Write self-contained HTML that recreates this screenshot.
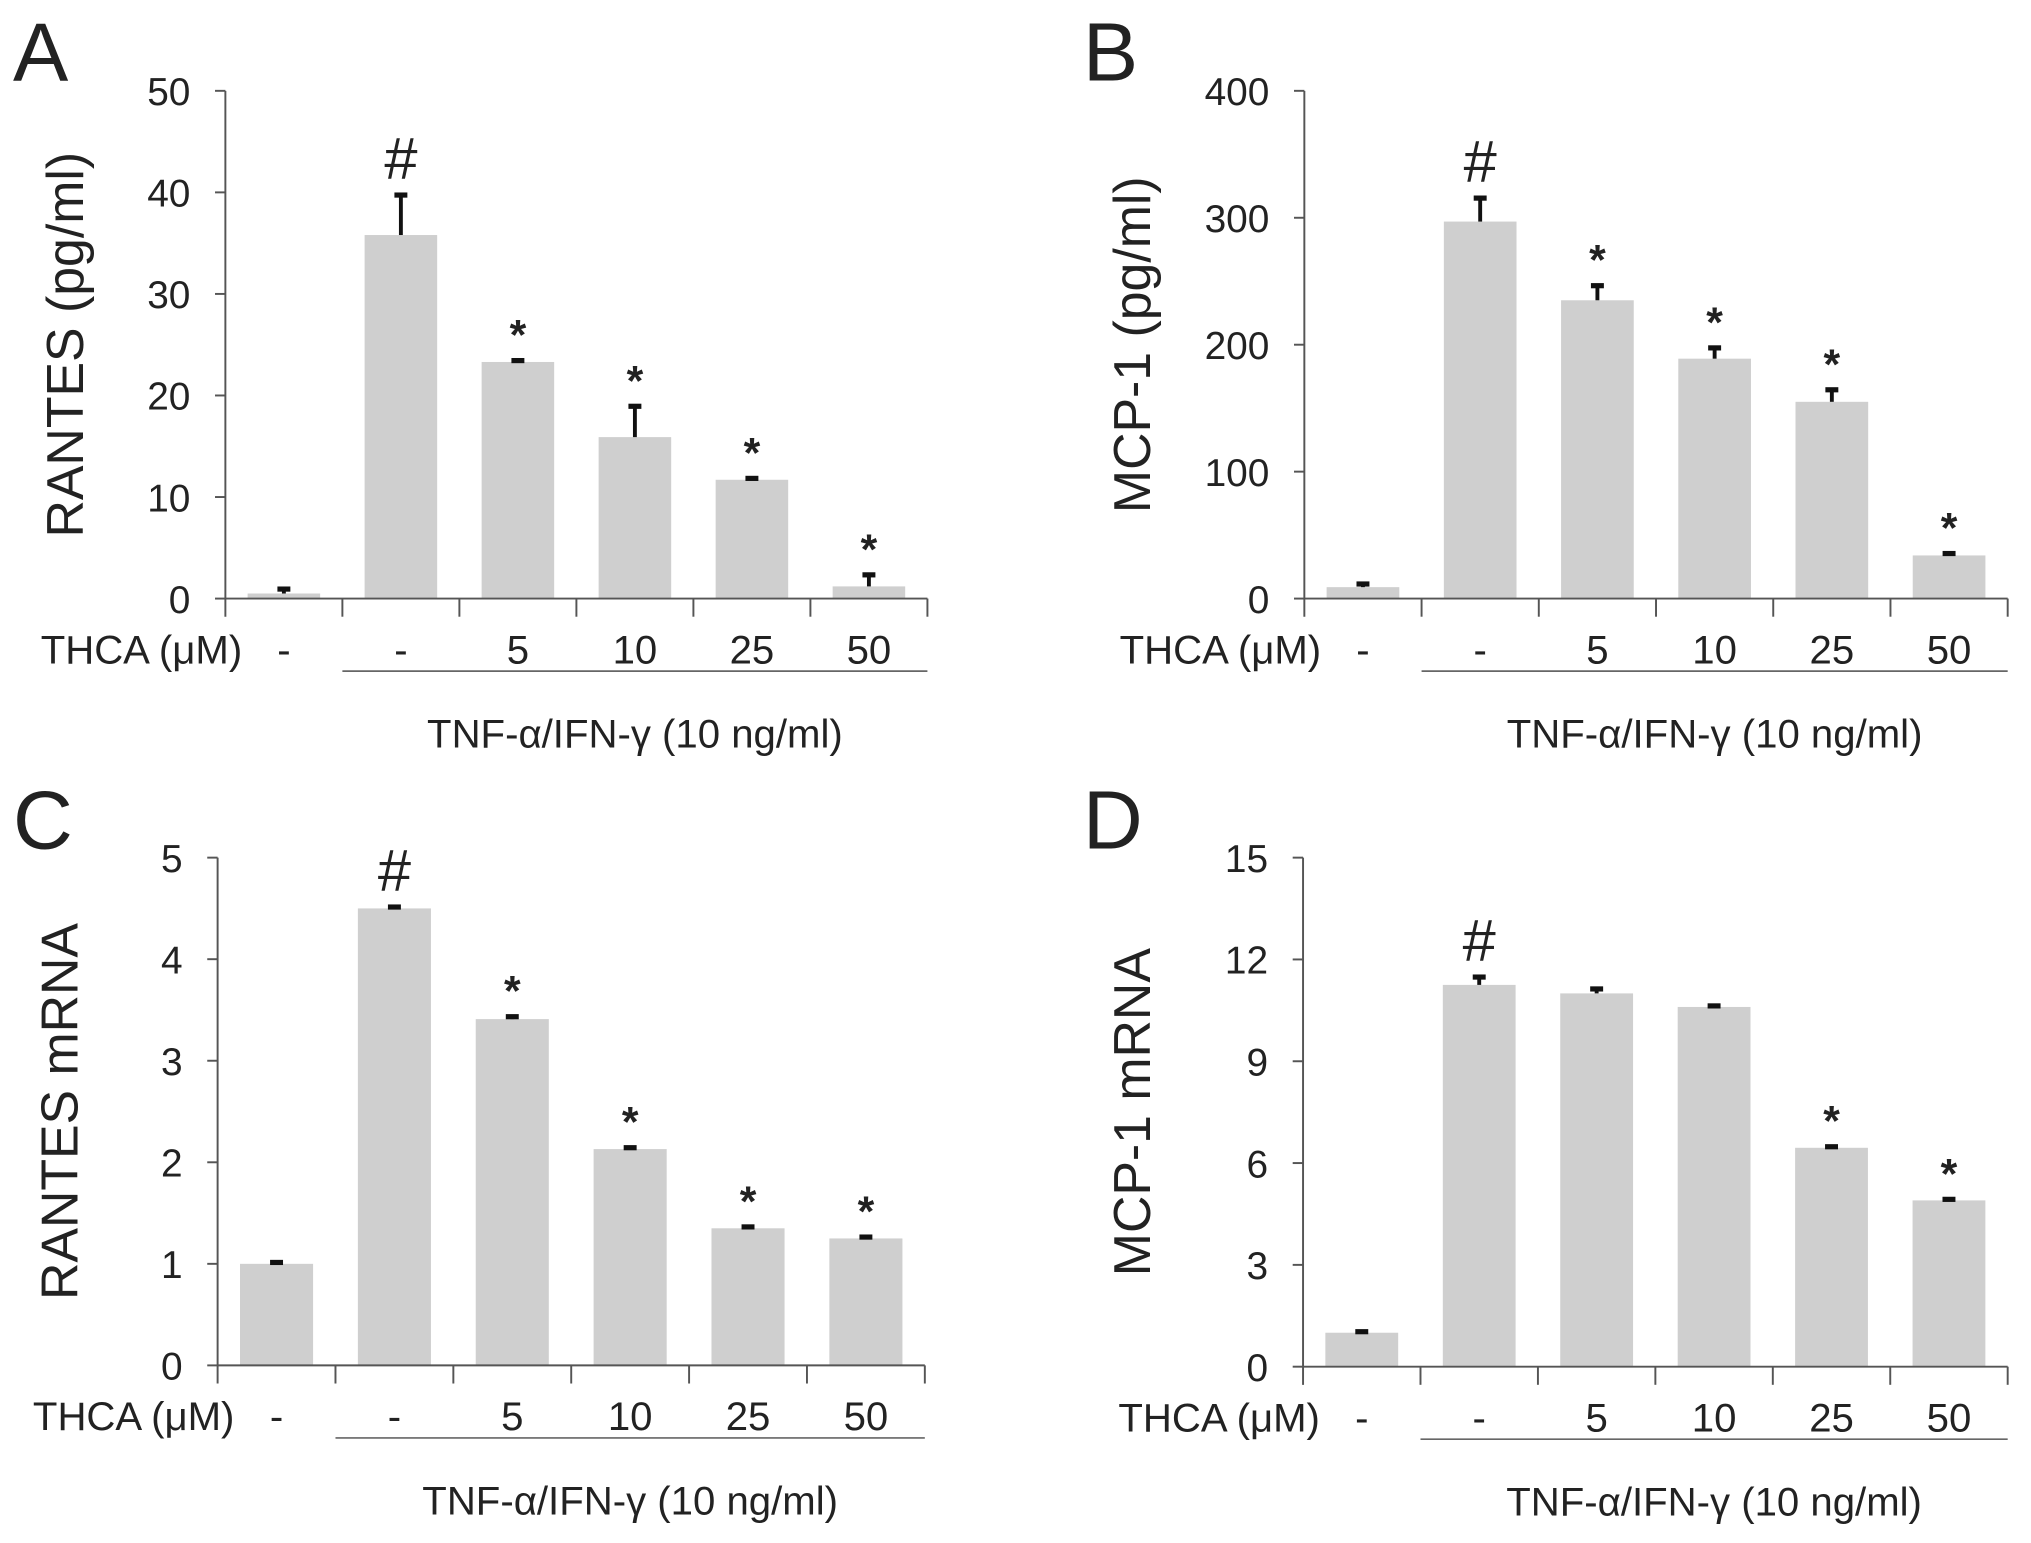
<!DOCTYPE html>
<html><head><meta charset="utf-8"><style>
html,body{margin:0;padding:0;background:#fff}
svg{display:block}
text{font-family:"Liberation Sans",Arial,sans-serif;fill:#222}
</style></head><body>
<svg id="fig" width="2031" height="1543" viewBox="0 0 1568 1191" xmlns="http://www.w3.org/2000/svg"></svg>
<script>
const categories = ["-", "-", "5", "10", "25", "50"];
const valuesA = [0.5, 35.8, 23.3, 15.9, 11.7, 1.2];
const errorsA = [0.5, 4.0, 0.2, 3.1, 0.2, 1.2];
const marksA = ["", "#", "*", "*", "*", "*"];
const ticksA = [0, 10, 20, 30, 40, 50];
const valuesB = [9, 297, 235, 189, 155, 34];
const errorsB = [3, 19, 12, 9, 10, 2];
const marksB = ["", "#", "*", "*", "*", "*"];
const ticksB = [0, 100, 200, 300, 400];
const valuesC = [1.0, 4.5, 3.41, 2.13, 1.35, 1.25];
const errorsC = [0.02, 0.02, 0.03, 0.02, 0.02, 0.02];
const marksC = ["", "#", "*", "*", "*", "*"];
const ticksC = [0, 1, 2, 3, 4, 5];
const valuesD = [1.0, 11.25, 11.0, 10.6, 6.45, 4.9];
const errorsD = [0.05, 0.25, 0.15, 0.05, 0.05, 0.05];
const marksD = ["", "#", "", "", "*", "*"];
const ticksD = [0, 3, 6, 9, 12, 15];

const svg = document.getElementById('fig');
const NS = 'http://www.w3.org/2000/svg';
function mk(tag, attrs, txt){
  const e = document.createElementNS(NS, tag);
  for (const k in attrs) e.setAttribute(k, attrs[k]);
  if (txt !== undefined) e.textContent = txt;
  svg.appendChild(e);
  return e;
}
function panel(p, letter, title, vals, errs, marks, ticks, key){
  const ymax = ticks[ticks.length-1];
  const y = v => p.base - (v/ymax)*(p.base-p.top);
  const step = (p.right - p.ax)/6;
  const x = i => p.ax + step*(i+0.5);
  let e;
  e = mk('text', {x:p.lx, y:p.ly, 'font-size':64}, letter);
  
  
  e = mk('text', {x:0, y:0, 'font-size':40, 'text-anchor':'middle', transform:`translate(${p.tx},${(p.top+p.base)/2}) rotate(-90)`}, title);
  
  
  vals.forEach((v,i)=>{
    const bw = step*0.62;
    const b = mk('rect', {x:x(i)-bw/2, y:y(v), width:bw, height:p.base-y(v), fill:'#cfcfcf'});
    
    
    const top = y(v+errs[i]);
    const l = mk('line', {x1:x(i), x2:x(i), y1:y(v), y2:top, stroke:'#111', 'stroke-width':3});
    
    
    const c = mk('rect', {x:x(i)-5, y:top-1.5, width:10, height:4, fill:'#111'});
    
    
    if (marks[i]) {
      const isHash = marks[i]==='#';
      const m = mk('text', {x:x(i), y:top-(isHash?12:8), 'font-size':isHash?46:33, 'text-anchor':'middle', 'font-weight':isHash?'normal':'bold'}, marks[i]);
      
      
    }
  });
  e = mk('line', {x1:p.ax, x2:p.ax, y1:p.top, y2:p.base+14, stroke:'#555', 'stroke-width':1.5});
  
  
  e = mk('line', {x1:p.ax, x2:p.right, y1:p.base, y2:p.base, stroke:'#555', 'stroke-width':1.5});
  
  
  for (let i=1;i<=6;i++){
    const t = mk('line', {x1:p.ax+step*i, x2:p.ax+step*i, y1:p.base, y2:p.base+14, stroke:'#555', 'stroke-width':1.5});
    
    
  }
  ticks.forEach(t=>{
    const tl = mk('line', {x1:p.ax-8, x2:p.ax, y1:y(t), y2:y(t), stroke:'#555', 'stroke-width':1.5});
    
    
    const tt = mk('text', {x:p.ax-27, y:y(t)+11, 'font-size':30, 'text-anchor':'end'}, String(t));
    
    
  });
  e = mk('text', {x:p.ax+13, y:p.base+50, 'font-size':31, 'text-anchor':'end'}, 'THCA (μM)');
  
  
  categories.forEach((c,i)=>{
    const ct = mk('text', {x:x(i), y:p.base+50, 'font-size':31, 'text-anchor':'middle'}, c);
    
    
  });
  e = mk('line', {x1:p.ax+step, x2:p.right, y1:p.base+56, y2:p.base+56, stroke:'#666', 'stroke-width':1.3});
  
  
  e = mk('text', {x:(p.ax+step+p.right)/2, y:p.base+115, 'font-size':31, 'text-anchor':'middle'}, 'TNF-α/IFN-γ (10 ng/ml)');
  
  
}
panel({ax:174,right:716,top:70,base:462,lx:10,ly:62,tx:64}, 'A', 'RANTES (pg/ml)', valuesA, errorsA, marksA, ticksA, 'a');
panel({ax:1007,right:1550,top:70,base:462,lx:836,ly:62,tx:888}, 'B', 'MCP-1 (pg/ml)', valuesB, errorsB, marksB, ticksB, 'b');
panel({ax:168,right:714,top:662,base:1054,lx:10,ly:655,tx:60}, 'C', 'RANTES mRNA', valuesC, errorsC, marksC, ticksC, 'c');
panel({ax:1006,right:1550,top:662,base:1055,lx:836,ly:655,tx:888}, 'D', 'MCP-1 mRNA', valuesD, errorsD, marksD, ticksD, 'd');
</script>
</body></html>
